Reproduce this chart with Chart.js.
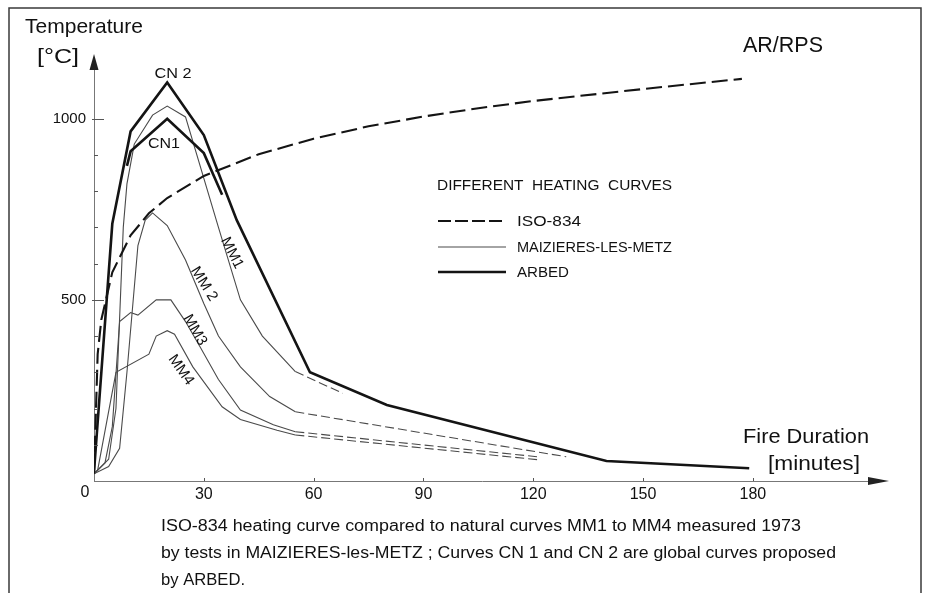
<!DOCTYPE html>
<html lang="en">
<head>
<meta charset="UTF-8">
<title>Different heating curves</title>
<script src="https://cdn.jsdelivr.net/npm/chart.js"></script>
<style>
  html, body { margin: 0; padding: 0; background: #fff; }
  #wrap { width: 928px; height: 593px; }
</style>
</head>
<body>
<div id="wrap"><canvas id="chart" width="928" height="593"></canvas></div>
<script>
// Fire duration [min] and temperature [°C]
const isoTime = [0, 1, 2, 5, 10, 15, 20, 30, 45, 60, 75, 90, 105, 120, 150, 177];
const isoTemp = [20, 350, 445, 576, 678, 739, 781, 842, 902, 945, 979, 1006, 1029, 1049, 1082, 1110];

const cn1Time = [9, 10, 20, 30, 35];
const cn1Temp = [870, 910, 1000, 905, 790];
const cn2Time = [0, 5, 10, 20, 30, 39, 59, 80, 140, 179];
const cn2Temp = [25, 710, 965, 1100, 955, 720, 300, 210, 55, 35];

const mm1Time = [0, 4, 6, 8, 9, 11, 16, 20, 25, 34, 40, 46, 55];
const mm1Temp = [20, 60, 200, 700, 820, 930, 1010, 1035, 1005, 700, 500, 400, 302];
const mm2Time = [0, 4, 7, 9, 12, 14, 16, 20, 25, 30, 34, 40, 48, 55];
const mm2Temp = [20, 40, 90, 300, 650, 720, 740, 705, 610, 490, 400, 315, 233, 191];
const mm3Time = [0, 3, 5, 7, 10, 12, 17, 21, 25, 29, 34, 40, 49, 55];
const mm3Temp = [20, 50, 150, 440, 465, 458, 500, 500, 440, 370, 280, 196, 155, 136];
const mm4Time = [0, 1, 6, 15, 17, 20, 22, 27, 35, 40, 50, 55];
const mm4Temp = [20, 30, 300, 350, 400, 415, 405, 315, 205, 170, 140, 127];

// extrapolated (dashed) tails of the natural curves
const mm1ExtTime = [55, 68];
const mm1ExtTemp = [302, 242];
const mm2ExtTime = [55, 129];
const mm2ExtTemp = [191, 67];
const mm3ExtTime = [55, 122];
const mm3ExtTemp = [136, 66];
const mm4ExtTime = [55, 122];
const mm4ExtTemp = [127, 58];

const xTickLabels = [30, 60, 90, 120, 150, 180];
const yTickLabels = [500, 1000];

const pts = (t, v) => t.map((x, i) => ({ x: x, y: v[i] }));

const SANS = '"Liberation Sans", Arial, sans-serif';
const NARROW = '"Liberation Sans Narrow", "Liberation Sans", Arial, sans-serif';

const thick = { borderColor: '#141414', borderWidth: 2.6 };
const thin = { borderColor: '#4a4a4a', borderWidth: 1.1 };
const thinDash = { borderColor: '#4a4a4a', borderWidth: 1.1, borderDash: [9, 4] };

// text squeezed/stretched to the width it has in the figure
function fitText(ctx, text, x, y, width, font, align) {
    ctx.save();
    ctx.font = font;
    const w = ctx.measureText(text).width;
    const k = width / w;
    ctx.translate(align === 'center' ? x - width / 2 : x, y);
    ctx.scale(k, 1);
    ctx.textAlign = 'left';
    ctx.fillText(text, 0, 0);
    ctx.restore();
}

function rotText(ctx, text, x, y, deg, font) {
    ctx.save();
    ctx.font = font;
    ctx.translate(x, y);
    ctx.rotate(deg * Math.PI / 180);
    ctx.textAlign = 'center';
    ctx.textBaseline = 'middle';
    ctx.fillText(text, 0, 0);
    ctx.restore();
}

const decor = {
    id: 'decor',
    afterDraw(chart) {
        const ctx = chart.ctx;
        const xs = chart.scales.x, ys = chart.scales.y;
        const area = chart.chartArea;
        const x0 = xs.getPixelForValue(0), y0 = ys.getPixelForValue(0);
        ctx.save();

        // frame round the figure
        ctx.strokeStyle = '#3a3a3a';
        ctx.lineWidth = 1.5;
        ctx.beginPath();
        ctx.moveTo(9, 600); ctx.lineTo(9, 8); ctx.lineTo(921, 8); ctx.lineTo(921, 600);
        ctx.stroke();

        // arrow heads
        ctx.fillStyle = '#222';
        ctx.beginPath();
        ctx.moveTo(x0, 54); ctx.lineTo(x0 - 4.5, area.top + 2); ctx.lineTo(x0 + 4.5, area.top + 2);
        ctx.closePath(); ctx.fill();
        ctx.beginPath();
        ctx.moveTo(889, y0); ctx.lineTo(area.right - 2, y0 - 4); ctx.lineTo(area.right - 2, y0 + 4);
        ctx.closePath(); ctx.fill();

        // y tick marks
        ctx.strokeStyle = '#555';
        ctx.lineWidth = 1;
        ys.ticks.forEach(t => {
            if (t.value <= 0 || t.value > 1100) return;
            const y = Math.round(ys.getPixelForValue(t.value)) + 0.5;
            const major = yTickLabels.includes(t.value);
            ctx.beginPath();
            ctx.moveTo(major ? x0 - 2 : x0, y);
            ctx.lineTo(major ? x0 + 10 : x0 + 4, y);
            ctx.stroke();
        });
        // x tick marks
        xTickLabels.forEach(v => {
            const x = Math.round(xs.getPixelForValue(v)) + 0.5;
            ctx.beginPath(); ctx.moveTo(x, y0); ctx.lineTo(x, y0 - 3); ctx.stroke();
        });

        ctx.fillStyle = '#111';
        ctx.textBaseline = 'alphabetic';
        // axis titles
        fitText(ctx, 'Temperature', 25, 33, 118, '21px ' + SANS);
        fitText(ctx, '[°C]', 37, 63, 42, '21px ' + SANS);
        fitText(ctx, 'Fire Duration', 743, 443, 126, '21px ' + SANS);
        fitText(ctx, '[minutes]', 768, 470, 92, '21px ' + NARROW);
        fitText(ctx, 'AR/RPS', 743, 52, 80, '22px ' + SANS);
        ctx.font = '16px ' + NARROW;
        ctx.textAlign = 'center';
        ctx.textBaseline = 'middle';
        ctx.fillText('0', 85, 493);

        // curve names
        ctx.textBaseline = 'alphabetic';
        fitText(ctx, 'CN 2', 173, 78, 37, '15px ' + SANS, 'center');
        fitText(ctx, 'CN1', 164, 148, 32, '15px ' + SANS, 'center');
        rotText(ctx, 'MM1', 232, 253, 63, '15px ' + SANS);
        rotText(ctx, 'MM 2', 204, 284, 58, '15px ' + SANS);
        rotText(ctx, 'MM3', 195, 330, 60, '15px ' + SANS);
        rotText(ctx, 'MM4', 181, 370, 55, '15px ' + SANS);

        // key
        fitText(ctx, 'DIFFERENT  HEATING  CURVES', 437, 190, 235, '15px ' + SANS);
        const keys = [
            ['ISO-834', 221, 64, { w: 2, dash: [13, 4], c: '#141414' }],
            ['MAIZIERES-LES-METZ', 247, 155, { w: 1.1, dash: [], c: '#4a4a4a' }],
            ['ARBED', 272, 52, { w: 2.6, dash: [], c: '#141414' }]
        ];
        keys.forEach(([label, y, w, s]) => {
            ctx.save();
            ctx.strokeStyle = s.c; ctx.lineWidth = s.w; ctx.setLineDash(s.dash);
            ctx.beginPath(); ctx.moveTo(438, y); ctx.lineTo(506, y); ctx.stroke();
            ctx.restore();
            fitText(ctx, label, 517, y + 5, w, '15px ' + SANS);
        });

        // caption
        fitText(ctx, 'ISO-834 heating curve compared to natural curves MM1 to MM4 measured 1973', 161, 531, 640, '16px ' + NARROW);
        fitText(ctx, 'by tests in MAIZIERES-les-METZ ; Curves CN 1 and CN 2 are global curves proposed', 161, 558, 675, '16px ' + NARROW);
        fitText(ctx, 'by ARBED.', 161, 585, 84, '16px ' + NARROW);
        ctx.restore();
    }
};

new Chart(document.getElementById('chart'), {
    type: 'line',
    data: {
        datasets: [
            { label: 'ISO-834', data: pts(isoTime, isoTemp), borderColor: '#141414', borderWidth: 2.1, borderDash: [16, 6] },
            Object.assign({ label: 'CN 2', data: pts(cn2Time, cn2Temp) }, thick),
            Object.assign({ label: 'CN1', data: pts(cn1Time, cn1Temp) }, thick),
            Object.assign({ label: 'MM1', data: pts(mm1Time, mm1Temp) }, thin),
            Object.assign({ label: 'MM 2', data: pts(mm2Time, mm2Temp) }, thin),
            Object.assign({ label: 'MM3', data: pts(mm3Time, mm3Temp) }, thin),
            Object.assign({ label: 'MM4', data: pts(mm4Time, mm4Temp) }, thin),
            Object.assign({ label: 'MM1 ext', data: pts(mm1ExtTime, mm1ExtTemp) }, thinDash),
            Object.assign({ label: 'MM 2 ext', data: pts(mm2ExtTime, mm2ExtTemp) }, thinDash),
            Object.assign({ label: 'MM3 ext', data: pts(mm3ExtTime, mm3ExtTemp) }, thinDash),
            Object.assign({ label: 'MM4 ext', data: pts(mm4ExtTime, mm4ExtTemp) }, thinDash)
        ]
    },
    options: {
        responsive: false,
        animation: false,
        events: [],
        elements: { point: { radius: 0 }, line: { tension: 0, borderJoinStyle: 'miter' } },
        layout: { padding: { top: 68, right: 58, bottom: 82, left: 0 } },
        plugins: { legend: { display: false }, tooltip: { enabled: false } },
        scales: {
            x: {
                type: 'linear', min: 0, max: 212,
                afterFit: s => { s.height = 30; },
                grid: { display: false, drawTicks: false },
                border: { display: true, color: '#777', width: 1 },
                ticks: {
                    stepSize: 30, padding: 4, maxRotation: 0, autoSkip: false,
                    color: '#111', font: { family: NARROW, size: 16 },
                    callback: v => xTickLabels.includes(v) ? String(v) : ''
                }
            },
            y: {
                type: 'linear', min: 0, max: 1140,
                afterFit: s => { s.width = 94; },
                grid: { display: false, drawTicks: false },
                border: { display: true, color: '#777', width: 1 },
                ticks: {
                    stepSize: 100, padding: 8, autoSkip: false,
                    color: '#111', font: { family: SANS, size: 15 },
                    callback: v => yTickLabels.includes(v) ? String(v) : ''
                }
            }
        }
    },
    plugins: [decor]
});
</script>
</body>
</html>
